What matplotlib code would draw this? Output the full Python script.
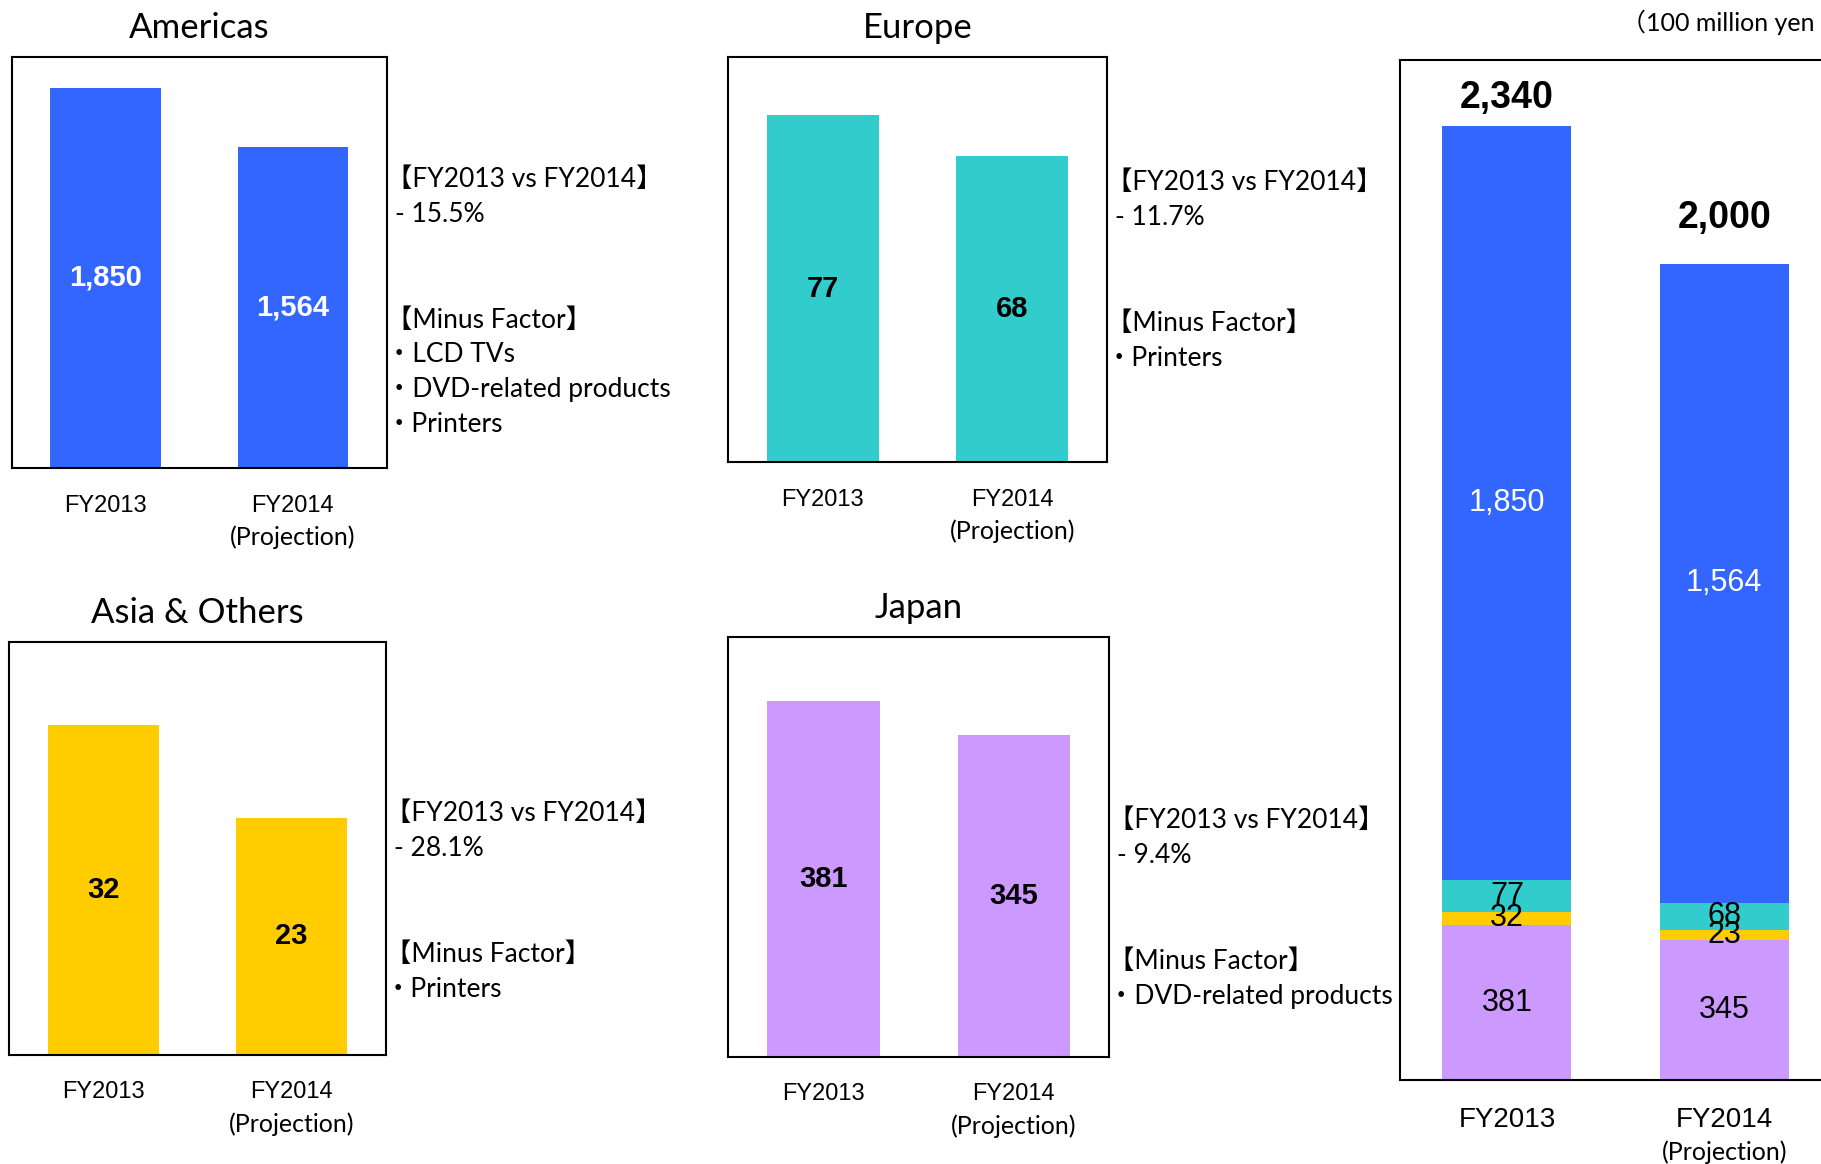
import matplotlib
matplotlib.use("Agg")
import matplotlib.pyplot as plt

W, H, DPI = 1821, 1164, 100

# ---- sales by region (100 million yen) ----
periods = ["FY2013", "FY2014"]
projection_note = "(Projection)"
region_names = ["Americas", "Europe", "Asia & Others", "Japan"]
americas_sales = [1850, 1564]
europe_sales = [77, 68]
asia_others_sales = [32, 23]
japan_sales = [381, 345]
yoy_change = ["- 15.5%", "- 11.7%", "- 28.1%", "- 9.4%"]
minus_factors = [
    ["LCD TVs", "DVD-related products", "Printers"],
    ["Printers"],
    ["Printers"],
    ["DVD-related products"],
]
unit_note = "（100 million yen"

region_sales = [americas_sales, europe_sales, asia_others_sales, japan_sales]
totals = [sum(v) for v in zip(*region_sales)]

# ---- style ----
colors = ["#3366FF", "#33CCCC", "#FFCC00", "#CC99FF"]
value_colors = ["white", "black", "black", "black"]
JP = ["Lato", "Noto Sans CJK JP"]
ARIAL = "Liberation Sans"

# panel frames in pixels: left, top, right, bottom
panel_boxes = [(11.6, 56.9, 386.7, 468.2), (728.2, 56.9, 1106.8, 462.3),
               (9.3, 642.4, 385.6, 1054.8), (728.2, 636.6, 1109.1, 1057.1)]
panel_ymax = [2000, 90, 40, 450]
note_top = [179, 182.5, 813.2, 820.1]
total_offsets = [27.5, 46]


def pt(pixels):
    return pixels * 72 / DPI


fig = plt.figure(figsize=(W / DPI, H / DPI), dpi=DPI)


def add_axes_px(l, t, r, b):
    return fig.add_axes([l / W, 1 - b / H, (r - l) / W, (b - t) / H])


def fmt(values):
    return [f"{v:,}" for v in values]


# ---- one small chart per region, with its comment block ----
for i, name in enumerate(region_names):
    ax = add_axes_px(*panel_boxes[i])
    bars = ax.bar(range(len(periods)), region_sales[i], width=0.59, color=colors[i])
    ax.set_xlim(-0.5, 1.5)
    ax.set_ylim(0, panel_ymax[i])
    ax.set_yticks([])
    ax.set_xticks(range(len(periods)))
    ax.set_xticklabels(periods, family=ARIAL, fontsize=17)
    ax.tick_params(axis="x", length=0, pad=19)
    for s in ax.spines.values():
        s.set_linewidth(1.5)
    ax.bar_label(bars, labels=fmt(region_sales[i]), label_type="center",
                 color=value_colors[i], family=ARIAL, weight="bold", fontsize=21)
    ax.annotate(projection_note, xy=(1, 0), xycoords=("data", "axes fraction"),
                xytext=(0, -pt(69)), textcoords="offset points",
                ha="center", va="center", family=JP, fontsize=18)
    ax.annotate(name, xy=(0.5, 1), xycoords="axes fraction",
                xytext=(0, pt(29)), textcoords="offset points",
                ha="center", va="center", family=JP, fontsize=25)

    x_plain = (panel_boxes[i][2] + 8) / W
    x_cjk = (panel_boxes[i][2] - 1) / W  # full-width bracket / bullet carry left bearing
    y0 = note_top[i]
    lines = [(f"【{periods[0]} vs {periods[1]}】", x_cjk, y0),
             (yoy_change[i], x_plain, y0 + 35),
             ("【Minus Factor】", x_cjk, y0 + 141)]
    for k, factor in enumerate(minus_factors[i]):
        lines.append(("・" + factor, x_cjk, y0 + 176 + 35 * k))
    for text, x, y in lines:
        fig.text(x, 1 - y / H, text, ha="left", va="center", family=JP, fontsize=19)

# ---- stacked total ----
ax = add_axes_px(1399.5, 60.4, W, 1080.4)
base = [0] * len(periods)
for i in [3, 2, 1, 0]:  # Japan at the base, Americas on top
    bars = ax.bar(range(len(periods)), region_sales[i], width=0.594, bottom=base,
                  color=colors[i])
    ax.bar_label(bars, labels=fmt(region_sales[i]), label_type="center",
                 color=value_colors[i], family=ARIAL, fontsize=22)
    base = [b + v for b, v in zip(base, region_sales[i])]

for j, t in enumerate(totals):
    ax.annotate(f"{t:,}", xy=(j, t), xytext=(0, pt(total_offsets[j])),
                textcoords="offset points", ha="center", va="center",
                family=ARIAL, weight="bold", fontsize=27)

ax.set_xlim(-0.495, 1.446)
ax.set_ylim(0, 2500)
ax.set_yticks([])
ax.set_xticks(range(len(periods)))
ax.set_xticklabels(periods, family=ARIAL, fontsize=20)
ax.tick_params(axis="x", length=0, pad=19.5)
ax.spines["right"].set_visible(False)
for s in ["left", "top", "bottom"]:
    ax.spines[s].set_linewidth(1.5)
ax.annotate(projection_note, xy=(1, 0), xycoords=("data", "axes fraction"),
            xytext=(0, -pt(72)), textcoords="offset points",
            ha="center", va="center", family=JP, fontsize=18)

fig.text(1621 / W, 1 - 22 / H, unit_note, ha="left", va="center", family=JP, fontsize=18)

fig.savefig("out.png", dpi=DPI)
